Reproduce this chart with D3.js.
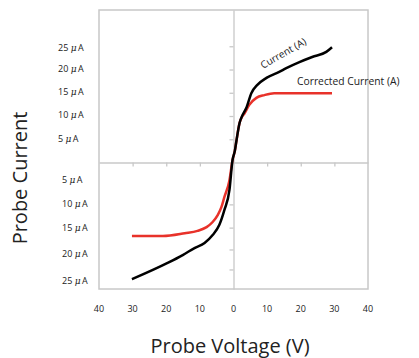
<!DOCTYPE html>
<html>
<head>
<meta charset="utf-8">
<script src="https://cdn.jsdelivr.net/npm/d3@7"></script>
<style>
  body { margin: 0; background: #fff; }
  svg { display: block; font-family: "Open Sans", "Noto Sans", sans-serif; }
  .frame { fill: none; stroke: #c8c8c8; stroke-width: 1.5; }
  .axis path, .axis line { stroke: #c8c8c8; stroke-width: 1.3; }
  .lbl { font-size: 9px; fill: #222; }
</style>
</head>
<body>
<div id="chart"></div>
<script>
// probe voltage (V) vs current (uA)
let voltage   = [-30.2, -19.6, -15.1, -11.6, -8.6, -6.2, -4.2, -2.7, -1.2, -0.3, 0.4, 0.9, 1.8, 2.7, 3.9, 5.3, 7.1, 9.8, 13.6, 15.7, 19.6, 23.4, 27.6, 29.3]
let current   = [-25.1, -21.6, -19.9, -18.4, -17.3, -15.6, -13.4, -10.2, -5.9, 0.5, 2.5, 4.8, 8.5, 10.2, 11.9, 14.9, 16.7, 18.2, 19.5, 20.3, 21.6, 22.7, 23.8, 24.8]

let corrVoltage = [-30.2, -21.0, -14.5, -10.7, -8.0, -6.2, -4.7, -3.6, -2.7, -1.2, -0.3, 0.4, 0.9, 1.8, 2.5, 3.3, 4.7, 6.8, 9.2, 12.1, 29.3]
let corrCurrent = [-15.8, -15.8, -15.2, -14.7, -13.9, -12.8, -11.3, -9.6, -7.4, -3.8, 0.5, 2.5, 4.8, 8.5, 9.8, 10.6, 12.4, 13.9, 14.5, 14.9, 14.9]

let xTicks = [-30, -20, -10, 10, 20, 30]
let xLabels = [-40, -30, -20, -10, 0, 10, 20, 30, 40]
let upperTicks = [5, 10, 15, 20, 25]
let lowerTicks = [-9, -14, -18.7, -23]
let upperLabels = [25, 20, 15, 10, 5]
let upperLabelPos = [24.7, 20.1, 15.2, 10.2, 5.0]
let lowerLabels = [5, 10, 15, 20, 25]
let lowerLabelPos = [-3.8, -8.8, -14.1, -19.7, -25.4]

let width = 419, height = 358
let box = {left: 99, right: 368, top: 10, bottom: 289}

let x = d3.scaleLinear().domain([-40, 40]).range([box.left, box.right])
let y = d3.scaleLinear().domain([-27.2, 32.8]).range([box.bottom, box.top])

let svg = d3.select('#chart').append('svg')
    .attr('width', width)
    .attr('height', height)

svg.append('rect')
    .attr('class', 'frame')
    .attr('x', box.left)
    .attr('y', box.top)
    .attr('width', box.right - box.left)
    .attr('height', box.bottom - box.top)

// axes through the origin
svg.append('g')
    .attr('class', 'axis')
    .attr('transform', 'translate(0,' + y(0) + ')')
    .call(d3.axisBottom(x).tickValues(xTicks).tickFormat('').tickSize(4).tickSizeOuter(0))

svg.append('g')
    .attr('class', 'axis')
    .attr('transform', 'translate(' + x(0) + ',0)')
    .call(d3.axisLeft(y).tickValues(upperTicks.concat(lowerTicks)).tickFormat('').tickSize(4).tickSizeOuter(0))

svg.selectAll('.axis text').remove()

// x labels show magnitudes only
svg.selectAll('.xlbl')
    .data(xLabels)
    .enter().append('text')
    .attr('class', 'lbl')
    .attr('x', d => x(d))
    .attr('y', 312)
    .attr('text-anchor', 'middle')
    .text(d => Math.abs(d))

function uaLabel(sel, left) {
  sel.attr('class', 'lbl')
      .attr('x', left)
      .attr('dy', '0.35em')
  sel.append('tspan').text(d => d[0] + ' ')
  sel.append('tspan').attr('font-style', 'italic').attr('font-family', 'DejaVu Serif, serif').text('\u03BC')
  sel.append('tspan').attr('dx', 1.5).text('A')
}

svg.selectAll('.ulbl')
    .data(upperLabels.map((v, i) => [v, upperLabelPos[i]]))
    .enter().append('text')
    .attr('y', d => y(d[1]))
    .call(uaLabel, 58)

svg.selectAll('.llbl')
    .data(lowerLabels.map((v, i) => [v, lowerLabelPos[i]]))
    .enter().append('text')
    .attr('y', d => y(d[1]))
    .call(uaLabel, 62)

let line = d3.line()
    .x(d => x(d[0]))
    .y(d => y(d[1]))
    .curve(d3.curveMonotoneX)

svg.append('path')
    .datum(corrVoltage.map((v, i) => [v, corrCurrent[i]]))
    .attr('d', line)
    .attr('fill', 'none')
    .attr('stroke', '#e8322a')
    .attr('stroke-width', 2.5)

svg.append('path')
    .datum(voltage.map((v, i) => [v, current[i]]))
    .attr('d', line)
    .attr('fill', 'none')
    .attr('stroke', '#000')
    .attr('stroke-width', 2.5)

// series labels
svg.append('text')
    .attr('transform', 'translate(263,69) rotate(-30)')
    .attr('font-size', 10)
    .attr('fill', '#222')
    .text('Current (A)')

svg.append('text')
    .attr('x', 297)
    .attr('y', 85)
    .attr('font-size', 10.3)
    .attr('fill', '#222')
    .text('Corrected Current (A)')

// axis titles
svg.append('text')
    .attr('x', 230)
    .attr('y', 353)
    .attr('text-anchor', 'middle')
    .attr('font-size', 20)
    .attr('fill', '#222')
    .text('Probe Voltage (V)')

svg.append('text')
    .attr('transform', 'translate(27,178) rotate(-90)')
    .attr('text-anchor', 'middle')
    .attr('font-size', 20)
    .attr('fill', '#222')
    .text('Probe Current')
</script>
</body>
</html>
